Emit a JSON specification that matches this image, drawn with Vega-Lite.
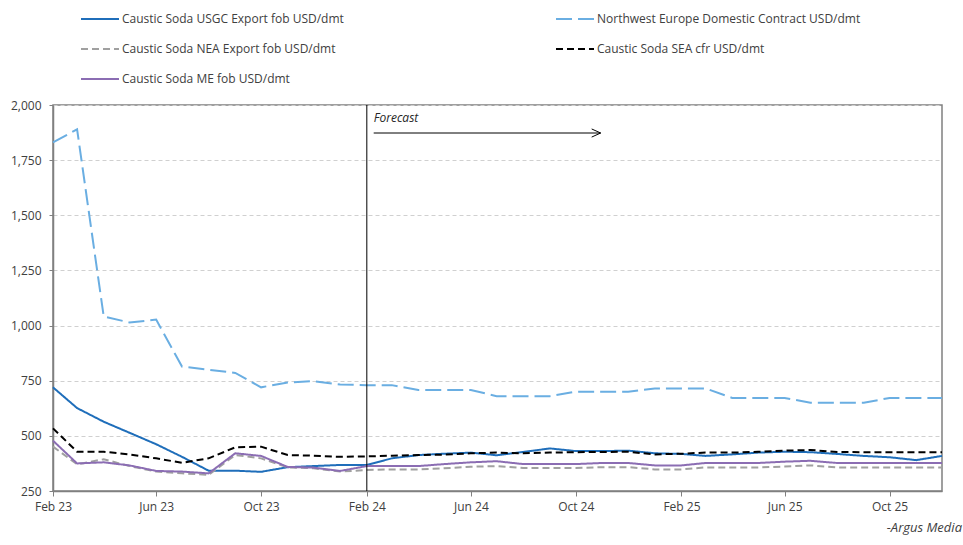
{
  "$schema": "https://vega.github.io/schema/vega-lite/v6.json",
  "width": 889,
  "height": 386,
  "autosize": {"type": "none"},
  "padding": {"left": 53, "top": 105, "right": 21, "bottom": 54},
  "background": "white",
  "title": {"text": "-Argus Media", "orient": "bottom", "anchor": "end", "fontStyle": "italic", "fontWeight": "normal", "fontSize": 13, "color": "#404040", "offset": 10, "dx": 16, "font": "Open Sans"},
  "config": {
    "font": "Open Sans",
    "view": {"stroke": "#808080", "strokeWidth": 1.5},
    "legend": {"orient": "none", "direction": "horizontal", "legendX": 27, "legendY": -106, "columns": 2, "columnPadding": 208, "rowPadding": 4, "symbolType": "stroke", "symbolSize": 1444, "symbolStrokeWidth": 2, "labelFontSize": 12, "labelColor": "#404040", "labelOffset": 2, "labelLimit": 400, "padding": 0, "labelFont": "Open Sans"}
  },
  "datasets": {
    "prices": [
      {"date":"2023-02-01","series":"USGC","value":720},{"date":"2023-03-01","series":"USGC","value":626},{"date":"2023-04-01","series":"USGC","value":564},{"date":"2023-05-01","series":"USGC","value":514},{"date":"2023-06-01","series":"USGC","value":462},{"date":"2023-07-01","series":"USGC","value":405},{"date":"2023-08-01","series":"USGC","value":342},{"date":"2023-09-01","series":"USGC","value":342},{"date":"2023-10-01","series":"USGC","value":337},{"date":"2023-11-01","series":"USGC","value":358},{"date":"2023-12-01","series":"USGC","value":363},{"date":"2024-01-01","series":"USGC","value":368},{"date":"2024-02-01","series":"USGC","value":368},{"date":"2024-03-01","series":"USGC","value":398},{"date":"2024-04-01","series":"USGC","value":413},{"date":"2024-05-01","series":"USGC","value":419},{"date":"2024-06-01","series":"USGC","value":424},{"date":"2024-07-01","series":"USGC","value":412},{"date":"2024-08-01","series":"USGC","value":427},{"date":"2024-09-01","series":"USGC","value":443},{"date":"2024-10-01","series":"USGC","value":431},{"date":"2024-11-01","series":"USGC","value":431},{"date":"2024-12-01","series":"USGC","value":433},{"date":"2025-01-01","series":"USGC","value":421},{"date":"2025-02-01","series":"USGC","value":418},{"date":"2025-03-01","series":"USGC","value":409},{"date":"2025-04-01","series":"USGC","value":416},{"date":"2025-05-01","series":"USGC","value":424},{"date":"2025-06-01","series":"USGC","value":428},{"date":"2025-07-01","series":"USGC","value":426},{"date":"2025-08-01","series":"USGC","value":418},{"date":"2025-09-01","series":"USGC","value":409},{"date":"2025-10-01","series":"USGC","value":403},{"date":"2025-11-01","series":"USGC","value":390},{"date":"2025-12-01","series":"USGC","value":409},
      {"date":"2023-02-01","series":"NWE","value":1830},{"date":"2023-03-01","series":"NWE","value":1890},{"date":"2023-04-01","series":"NWE","value":1041},{"date":"2023-05-01","series":"NWE","value":1014},{"date":"2023-06-01","series":"NWE","value":1027},{"date":"2023-07-01","series":"NWE","value":814},{"date":"2023-08-01","series":"NWE","value":800},{"date":"2023-09-01","series":"NWE","value":785},{"date":"2023-10-01","series":"NWE","value":720},{"date":"2023-11-01","series":"NWE","value":742},{"date":"2023-12-01","series":"NWE","value":748},{"date":"2024-01-01","series":"NWE","value":733},{"date":"2024-02-01","series":"NWE","value":730},{"date":"2024-03-01","series":"NWE","value":730},{"date":"2024-04-01","series":"NWE","value":708},{"date":"2024-05-01","series":"NWE","value":708},{"date":"2024-06-01","series":"NWE","value":708},{"date":"2024-07-01","series":"NWE","value":680},{"date":"2024-08-01","series":"NWE","value":680},{"date":"2024-09-01","series":"NWE","value":680},{"date":"2024-10-01","series":"NWE","value":700},{"date":"2024-11-01","series":"NWE","value":700},{"date":"2024-12-01","series":"NWE","value":700},{"date":"2025-01-01","series":"NWE","value":715},{"date":"2025-02-01","series":"NWE","value":715},{"date":"2025-03-01","series":"NWE","value":715},{"date":"2025-04-01","series":"NWE","value":672},{"date":"2025-05-01","series":"NWE","value":672},{"date":"2025-06-01","series":"NWE","value":672},{"date":"2025-07-01","series":"NWE","value":650},{"date":"2025-08-01","series":"NWE","value":650},{"date":"2025-09-01","series":"NWE","value":650},{"date":"2025-10-01","series":"NWE","value":672},{"date":"2025-11-01","series":"NWE","value":672},{"date":"2025-12-01","series":"NWE","value":672},
      {"date":"2023-02-01","series":"NEA","value":451},{"date":"2023-03-01","series":"NEA","value":371},{"date":"2023-04-01","series":"NEA","value":394},{"date":"2023-05-01","series":"NEA","value":363},{"date":"2023-06-01","series":"NEA","value":338},{"date":"2023-07-01","series":"NEA","value":330},{"date":"2023-08-01","series":"NEA","value":323},{"date":"2023-09-01","series":"NEA","value":413},{"date":"2023-10-01","series":"NEA","value":398},{"date":"2023-11-01","series":"NEA","value":357},{"date":"2023-12-01","series":"NEA","value":353},{"date":"2024-01-01","series":"NEA","value":338},{"date":"2024-02-01","series":"NEA","value":345},{"date":"2024-03-01","series":"NEA","value":348},{"date":"2024-04-01","series":"NEA","value":348},{"date":"2024-05-01","series":"NEA","value":353},{"date":"2024-06-01","series":"NEA","value":360},{"date":"2024-07-01","series":"NEA","value":363},{"date":"2024-08-01","series":"NEA","value":354},{"date":"2024-09-01","series":"NEA","value":354},{"date":"2024-10-01","series":"NEA","value":354},{"date":"2024-11-01","series":"NEA","value":358},{"date":"2024-12-01","series":"NEA","value":358},{"date":"2025-01-01","series":"NEA","value":348},{"date":"2025-02-01","series":"NEA","value":348},{"date":"2025-03-01","series":"NEA","value":357},{"date":"2025-04-01","series":"NEA","value":357},{"date":"2025-05-01","series":"NEA","value":357},{"date":"2025-06-01","series":"NEA","value":361},{"date":"2025-07-01","series":"NEA","value":366},{"date":"2025-08-01","series":"NEA","value":357},{"date":"2025-09-01","series":"NEA","value":357},{"date":"2025-10-01","series":"NEA","value":357},{"date":"2025-11-01","series":"NEA","value":357},{"date":"2025-12-01","series":"NEA","value":357},
      {"date":"2023-02-01","series":"SEA","value":534},{"date":"2023-03-01","series":"SEA","value":428},{"date":"2023-04-01","series":"SEA","value":428},{"date":"2023-05-01","series":"SEA","value":416},{"date":"2023-06-01","series":"SEA","value":398},{"date":"2023-07-01","series":"SEA","value":378},{"date":"2023-08-01","series":"SEA","value":398},{"date":"2023-09-01","series":"SEA","value":448},{"date":"2023-10-01","series":"SEA","value":451},{"date":"2023-11-01","series":"SEA","value":413},{"date":"2023-12-01","series":"SEA","value":410},{"date":"2024-01-01","series":"SEA","value":405},{"date":"2024-02-01","series":"SEA","value":407},{"date":"2024-03-01","series":"SEA","value":410},{"date":"2024-04-01","series":"SEA","value":413},{"date":"2024-05-01","series":"SEA","value":415},{"date":"2024-06-01","series":"SEA","value":421},{"date":"2024-07-01","series":"SEA","value":424},{"date":"2024-08-01","series":"SEA","value":421},{"date":"2024-09-01","series":"SEA","value":424},{"date":"2024-10-01","series":"SEA","value":426},{"date":"2024-11-01","series":"SEA","value":427},{"date":"2024-12-01","series":"SEA","value":428},{"date":"2025-01-01","series":"SEA","value":416},{"date":"2025-02-01","series":"SEA","value":419},{"date":"2025-03-01","series":"SEA","value":424},{"date":"2025-04-01","series":"SEA","value":424},{"date":"2025-05-01","series":"SEA","value":428},{"date":"2025-06-01","series":"SEA","value":433},{"date":"2025-07-01","series":"SEA","value":436},{"date":"2025-08-01","series":"SEA","value":427},{"date":"2025-09-01","series":"SEA","value":426},{"date":"2025-10-01","series":"SEA","value":426},{"date":"2025-11-01","series":"SEA","value":426},{"date":"2025-12-01","series":"SEA","value":426},
      {"date":"2023-02-01","series":"ME","value":478},{"date":"2023-03-01","series":"ME","value":375},{"date":"2023-04-01","series":"ME","value":380},{"date":"2023-05-01","series":"ME","value":366},{"date":"2023-06-01","series":"ME","value":341},{"date":"2023-07-01","series":"ME","value":338},{"date":"2023-08-01","series":"ME","value":330},{"date":"2023-09-01","series":"ME","value":421},{"date":"2023-10-01","series":"ME","value":409},{"date":"2023-11-01","series":"ME","value":359},{"date":"2023-12-01","series":"ME","value":356},{"date":"2024-01-01","series":"ME","value":341},{"date":"2024-02-01","series":"ME","value":363},{"date":"2024-03-01","series":"ME","value":363},{"date":"2024-04-01","series":"ME","value":363},{"date":"2024-05-01","series":"ME","value":372},{"date":"2024-06-01","series":"ME","value":380},{"date":"2024-07-01","series":"ME","value":385},{"date":"2024-08-01","series":"ME","value":372},{"date":"2024-09-01","series":"ME","value":372},{"date":"2024-10-01","series":"ME","value":372},{"date":"2024-11-01","series":"ME","value":377},{"date":"2024-12-01","series":"ME","value":377},{"date":"2025-01-01","series":"ME","value":366},{"date":"2025-02-01","series":"ME","value":366},{"date":"2025-03-01","series":"ME","value":377},{"date":"2025-04-01","series":"ME","value":377},{"date":"2025-05-01","series":"ME","value":377},{"date":"2025-06-01","series":"ME","value":383},{"date":"2025-07-01","series":"ME","value":387},{"date":"2025-08-01","series":"ME","value":377},{"date":"2025-09-01","series":"ME","value":377},{"date":"2025-10-01","series":"ME","value":377},{"date":"2025-11-01","series":"ME","value":377},{"date":"2025-12-01","series":"ME","value":377}
    ]
  },
  "layer": [
    {
      "data": {"name": "prices"},
      "mark": {"type": "line", "strokeWidth": 2},
      "encoding": {
        "x": {"field": "date", "type": "temporal",
          "scale": {"type": "utc", "domain": [{"year": 2023, "month": 2, "date": 1, "utc": true}, {"year": 2025, "month": 12, "date": 1, "utc": true}]},
          "axis": {"title": null, "grid": false, "format": "%b %y", "labelFlush": false, "labelFontSize": 12, "labelColor": "#404040", "domainColor": "#808080", "domainWidth": 1.5, "tickColor": "#808080", "tickSize": 5, "labelPadding": 5,
            "values": [{"year": 2023, "month": 2, "date": 1, "utc": true}, {"year": 2023, "month": 6, "date": 1, "utc": true}, {"year": 2023, "month": 10, "date": 1, "utc": true}, {"year": 2024, "month": 2, "date": 1, "utc": true}, {"year": 2024, "month": 6, "date": 1, "utc": true}, {"year": 2024, "month": 10, "date": 1, "utc": true}, {"year": 2025, "month": 2, "date": 1, "utc": true}, {"year": 2025, "month": 6, "date": 1, "utc": true}, {"year": 2025, "month": 10, "date": 1, "utc": true}]}},
        "y": {"field": "value", "type": "quantitative",
          "scale": {"domain": [250, 2000], "nice": false, "zero": false},
          "axis": {"title": null, "values": [250, 500, 750, 1000, 1250, 1500, 1750, 2000], "format": ",.0f", "grid": true, "gridDash": [4, 3], "gridColor": "#D0D0D0", "labelFontSize": 12, "labelColor": "#404040", "domainColor": "#808080", "domainWidth": 1.5, "tickColor": "#808080", "tickSize": 4, "labelPadding": 8}},
        "color": {"field": "series", "type": "nominal",
          "scale": {"domain": ["USGC", "NWE", "NEA", "SEA", "ME"], "range": ["#1F6EBA", "#6AAEE2", "#A0A0A0", "#000000", "#8B6DB3"]},
          "legend": {"title": null, "labelExpr": "datum.label == 'USGC' ? 'Caustic Soda USGC Export fob USD/dmt' : datum.label == 'NWE' ? 'Northwest Europe Domestic Contract USD/dmt' : datum.label == 'NEA' ? 'Caustic Soda NEA Export fob USD/dmt' : datum.label == 'SEA' ? 'Caustic Soda SEA cfr USD/dmt' : 'Caustic Soda ME fob USD/dmt'"}},
        "strokeDash": {"field": "series", "type": "nominal",
          "scale": {"domain": ["USGC", "NWE", "NEA", "SEA", "ME"], "range": [[1, 0], [16, 6], [7, 4], [7, 4], [1, 0]]},
          "legend": {"title": null, "labelExpr": "datum.label == 'USGC' ? 'Caustic Soda USGC Export fob USD/dmt' : datum.label == 'NWE' ? 'Northwest Europe Domestic Contract USD/dmt' : datum.label == 'NEA' ? 'Caustic Soda NEA Export fob USD/dmt' : datum.label == 'SEA' ? 'Caustic Soda SEA cfr USD/dmt' : 'Caustic Soda ME fob USD/dmt'"}}
      }
    },
    {
      "data": {"values": [{"date": "2024-02-01"}]},
      "mark": {"type": "rule", "color": "#000000", "strokeWidth": 1},
      "encoding": {"x": {"field": "date", "type": "temporal"}}
    },
    {
      "data": {"values": [{"start": "2024-02-09", "end": "2024-10-30", "value": 1873}]},
      "mark": {"type": "rule", "color": "#000000", "strokeWidth": 1},
      "encoding": {"x": {"field": "start", "type": "temporal"}, "x2": {"field": "end"}, "y": {"field": "value", "type": "quantitative"}}
    },
    {
      "data": {"values": [{"end": "2024-10-30", "value": 1873}]},
      "mark": {"type": "point", "shape": "M-1,-0.45L0,0L-1,0.45", "filled": false, "stroke": "#000000", "strokeWidth": 1, "size": 324, "opacity": 1},
      "encoding": {"x": {"field": "end", "type": "temporal"}, "y": {"field": "value", "type": "quantitative"}}
    },
    {
      "data": {"values": [{"date": "2024-02-09", "value": 1941, "label": "Forecast"}]},
      "mark": {"type": "text", "align": "left", "baseline": "middle", "fontStyle": "italic", "fontSize": 12, "color": "#262626"},
      "encoding": {"x": {"field": "date", "type": "temporal"}, "y": {"field": "value", "type": "quantitative"}, "text": {"field": "label"}}
    }
  ]
}
